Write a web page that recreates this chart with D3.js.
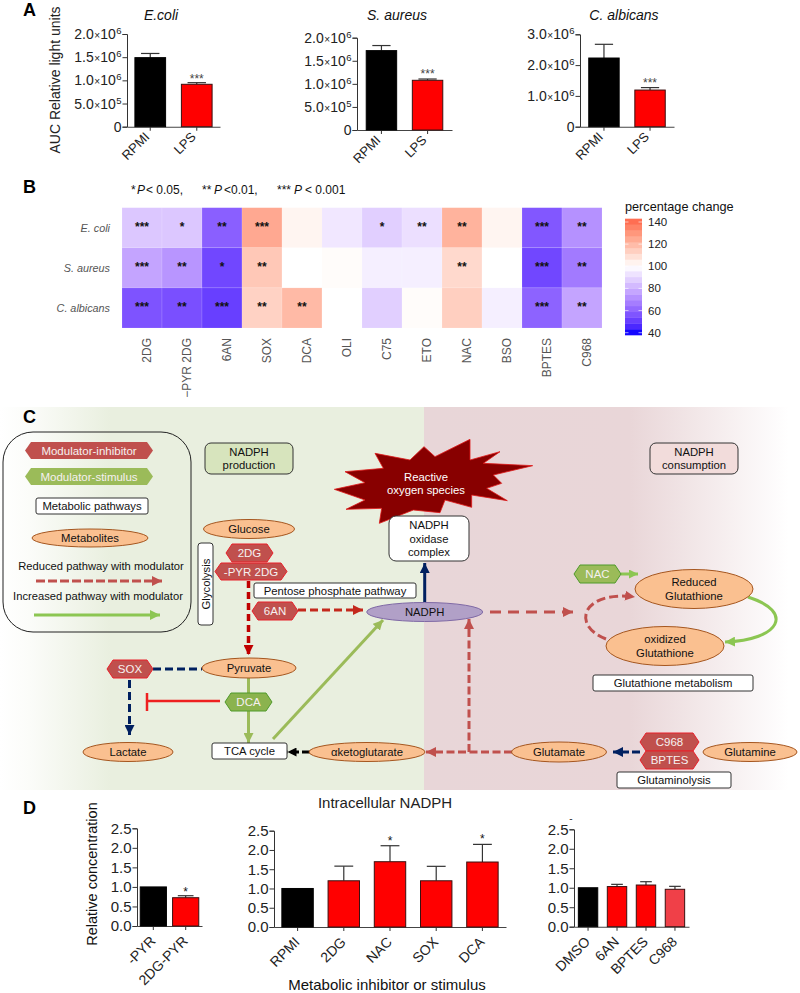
<!DOCTYPE html>
<html><head><meta charset="utf-8">
<style>html,body{margin:0;padding:0;background:#fff}svg{display:block}text{font-family:"Liberation Sans",Arial,sans-serif}</style>
<script src="https://cdn.jsdelivr.net/npm/d3@7"></script></head><body>
<svg id="c" width="800" height="993"></svg>
<script>
// ---------- Panel A data ----------
const aCategories = ["RPMI", "LPS"];
const aEcoliValues = [1.49e6, 0.915e6];
const aEcoliErrors = [1.58e6, 0.95e6];
const aEcoliTicks = [0, 5e5, 1e6, 1.5e6, 2e6];
const aAureusValues = [1.72e6, 1.077e6];
const aAureusErrors = [1.83e6, 1.105e6];
const aAureusTicks = [0, 5e5, 1e6, 1.5e6, 2e6];
const aAlbicansValues = [2.23e6, 1.19e6];
const aAlbicansErrors = [2.675e6, 1.27e6];
const aAlbicansTicks = [0, 1e6, 2e6, 3e6];
// ---------- Panel B data ----------
const hmRows = ["E. coli", "S. aureus", "C. albicans"];
const hmCols = ["2DG", "\u2212PYR 2DG", "6AN", "SOX", "DCA", "OLI", "C75", "ETO", "NAC", "BSO", "BPTES", "C968"];
const hmEcoli = [86, 86, 59, 125, 103, 94, 88, 92, 122, 103, 57, 72];
const hmAureus = [77, 73, 53, 116, 100, 101, 96, 96, 111, 100, 53, 66];
const hmAlbicans = [56, 55, 51, 113, 120, 100, 88, 101, 114, 96, 60, 77];
const hmSigEcoli = ["***", "*", "**", "***", "", "", "*", "**", "**", "", "***", "**"];
const hmSigAureus = ["***", "**", "*", "**", "", "", "", "", "**", "", "***", "**"];
const hmSigAlbicans = ["***", "**", "***", "**", "**", "", "", "", "", "", "***", "**"];
const legendTicks = [40, 60, 80, 100, 120, 140];
// ---------- Panel D data ----------
const dTicks = [0, 0.5, 1, 1.5, 2, 2.5];
const dPyrCats = ["-PYR", "2DG-PYR"];
const dPyrValues = [1.0, 0.724];
const dPyrErrors = [1.0, 0.775];
const dPyrSig = ["", "*"];
const dMidCats = ["RPMI", "2DG", "NAC", "SOX", "DCA"];
const dMidValues = [1.0, 1.2, 1.695, 1.2, 1.687];
const dMidErrors = [1.0, 1.58, 2.11, 1.575, 2.145];
const dMidSig = ["", "", "*", "", "*"];
const dRightCats = ["DMSO", "6AN", "BPTES", "C968"];
const dRightValues = [1.0, 1.03, 1.07, 0.96];
const dRightErrors = [1.0, 1.087, 1.155, 1.036];
const dRightSig = ["", "", "", ""];

const svg = d3.select("#c");
const defs = svg.append("defs");

function txt(g, x, y, s, o = {}) {
  const t = g.append("text").attr("x", x).attr("y", y)
    .attr("font-size", o.size || 12).attr("fill", o.fill || "#111")
    .attr("text-anchor", o.anchor || "middle").text(s);
  if (o.italic) t.attr("font-style", "italic");
  if (o.bold) t.attr("font-weight", "bold");
  if (o.rotate !== undefined) t.attr("transform", `rotate(${o.rotate} ${x} ${y})`);
  return t;
}

function sciFormat(sel) {
  sel.each(function (d) {
    const t = d3.select(this).text(null);
    if (d === 0) { t.append("tspan").text("0"); return; }
    const e = Math.floor(Math.log10(d));
    const m = (d / Math.pow(10, e)).toFixed(1);
    t.append("tspan").text(m);
    t.append("tspan").attr("font-size", 10).attr("dx", 0.5).text("\u00d7");
    t.append("tspan").text("10");
    t.append("tspan").attr("font-size", 9.5).attr("dy", -5).attr("dx", 0.5).text(e);
  });
}

function barPanel(o) {
  const g = svg.append("g");
  const x = d3.scaleBand().domain(o.cats).range([o.x0, o.x1]).paddingInner(o.pi).paddingOuter(o.po);
  const y = d3.scaleLinear().domain(o.domain).range([o.y0, o.yTop]);
  const bw = x.bandwidth();
  const yAxis = d3.axisLeft(y).tickValues(o.ticks).tickSize(4.5).tickPadding(o.tp === undefined ? 1 : o.tp);
  const ya = g.append("g").attr("transform", `translate(${o.x0},0)`).call(yAxis);
  ya.selectAll("path,line").attr("stroke", "#333").attr("stroke-width", 1);
  const yl = ya.selectAll("text").attr("font-size", o.tickSize).attr("fill", "#222")
    .attr("font-family", '"Liberation Sans",Arial,sans-serif');
  if (o.sci) yl.call(sciFormat);
  const xa = g.append("g").attr("transform", `translate(0,${o.y0})`).call(d3.axisBottom(x).tickSize(4).tickSizeOuter(0));
  xa.selectAll("path,line").attr("stroke", "#444").attr("stroke-width", 1.1);
  xa.selectAll("text").attr("font-size", o.xSize || 13).attr("fill", "#222")
    .attr("font-family", '"Liberation Sans",Arial,sans-serif')
    .attr("text-anchor", "end").attr("dx", 0).attr("dy", 0)
    .attr("transform", `translate(${o.xdx},${o.xdy}) rotate(-45)`);
  g.selectAll(".err").data(o.cats).join("g").each(function (c, i) {
    if (o.errors[i] === o.values[i]) return;
    const s = d3.select(this), cx = x(c) + bw / 2, cw = bw * 0.3;
    s.append("line").attr("x1", cx).attr("x2", cx).attr("y1", y(o.values[i])).attr("y2", y(o.errors[i]))
      .attr("stroke", "#333").attr("stroke-width", 1.2);
    s.append("line").attr("x1", cx - cw).attr("x2", cx + cw).attr("y1", y(o.errors[i])).attr("y2", y(o.errors[i]))
      .attr("stroke", "#333").attr("stroke-width", 1.2);
  });
  g.selectAll(".bar").data(o.cats).join("rect")
    .attr("x", c => x(c)).attr("width", bw)
    .attr("y", (c, i) => y(o.values[i])).attr("height", (c, i) => o.y0 - y(o.values[i]))
    .attr("fill", (c, i) => o.fills[i])
    .attr("stroke", (c, i) => i === 0 && o.fills[i] === "#000" ? "#000" : "#3a1010").attr("stroke-width", 1);
  g.selectAll(".sig").data(o.cats).join("text")
    .attr("x", c => x(c) + bw / 2).attr("y", (c, i) => y(o.errors[i]) + (o.sigDy || 0))
    .attr("text-anchor", "middle").attr("font-size", o.sigSize || 12).attr("fill", o.sigFill || "#444")
    .text((c, i) => o.sig[i]);
  return g;
}

const aFmt = { tickSize: 14, sci: true, fills: ["#000", "#ff0000"], sig: ["", "***"], xdx: -5, xdy: 6, pi: 0.34 };
barPanel({ ...aFmt, cats: aCategories, values: aEcoliValues, errors: aEcoliErrors, ticks: aEcoliTicks, domain: [0, 2e6],
  x0: 127, x1: 220, y0: 126.7, yTop: 34, po: 0.17, sigDy: 0 });
barPanel({ ...aFmt, cats: aCategories, values: aAureusValues, errors: aAureusErrors, ticks: aAureusTicks, domain: [0, 2e6],
  x0: 357, x1: 452, y0: 130, yTop: 37.7, po: 0.2, sigDy: -1 });
barPanel({ ...aFmt, cats: aCategories, values: aAlbicansValues, errors: aAlbicansErrors, ticks: aAlbicansTicks, domain: [0, 3e6],
  x0: 580, x1: 674, y0: 126.7, yTop: 34.3, po: 0.19, sigDy: -1 });

txt(svg, 23, 16, "A", { size: 18, bold: true, anchor: "start", fill: "#000" });
txt(svg, 161, 20, "E.coli", { size: 14, italic: true });
txt(svg, 397, 20, "S. aureus", { size: 14, italic: true });
txt(svg, 624, 20, "C. albicans", { size: 14, italic: true });
txt(svg, 60, 80, "AUC Relative light units", { size: 14, rotate: -90, fill: "#222" });

// ---------- Panel B ----------
txt(svg, 23, 193, "B", { size: 18, bold: true, anchor: "start", fill: "#000" });
const pt = svg.append("text").attr("x", 131).attr("y", 194).attr("font-size", 12).attr("fill", "#111");
[["*", 131], ["P", 137, 1], ["< 0.05,", 146], ["**", 202], ["P", 214, 1], ["<0.01,", 224], ["***", 277], ["P", 294, 1], ["< 0.001", 305]]
  .forEach(([s, x, it]) => pt.append("tspan").attr("x", x).attr("font-style", it ? "italic" : "normal").text(s));

const hmX = d3.scaleBand().domain(hmCols).range([122, 602]);
const hmY = d3.scaleBand().domain(hmRows).range([207.7, 328]);
const hmColor = d3.scaleLinear().domain([40, 100, 143]).range(["#0000ff", "#ffffff", "#ff6347"]).interpolate(d3.interpolateLab).clamp(true);
const hmValues = [hmEcoli, hmAureus, hmAlbicans];
const hmSig = [hmSigEcoli, hmSigAureus, hmSigAlbicans];
const hm = svg.append("g");
hmRows.forEach((r, ri) => hmCols.forEach((c, ci) => {
  hm.append("rect").attr("x", hmX(c)).attr("y", hmY(r)).attr("width", hmX.bandwidth()).attr("height", hmY.bandwidth())
    .attr("fill", hmColor(hmValues[ri][ci])).attr("stroke", "#fff").attr("stroke-opacity", 0.25).attr("stroke-width", 0.5);
  if (hmSig[ri][ci]) hm.append("text").attr("x", hmX(c) + hmX.bandwidth() / 2).attr("y", hmY(r) + hmY.bandwidth() / 2 + 3)
    .attr("text-anchor", "middle").attr("font-size", 12).attr("font-weight", "bold").attr("fill", "#111").text(hmSig[ri][ci]);
}));
hmRows.forEach(r => txt(svg, 110, hmY(r) + hmY.bandwidth() / 2 + 4, r, { size: 10.8, italic: true, anchor: "end", fill: "#555" }));
hmCols.forEach(c => {
  const x = hmX(c) + hmX.bandwidth() / 2 + 8.5;
  txt(svg, x, 338, c, { size: 12, anchor: "end", rotate: -90, fill: "#555" });
});
// colour legend
txt(svg, 625, 211, "percentage change", { size: 12.7, anchor: "start", fill: "#111" });
const lgY = d3.scaleLinear().domain([40, 140]).range([332.7, 222]);
const lgBins = d3.range(38, 143, 5.25);
lgBins.forEach(v => svg.append("rect").attr("x", 625).attr("width", 17).attr("y", lgY(v + 5.25)).attr("height", lgY(v) - lgY(v + 5.25) + 0.4).attr("fill", hmColor(v + 2.6)));
legendTicks.forEach(v => {
  svg.append("line").attr("x1", 625).attr("x2", 628.5).attr("y1", lgY(v)).attr("y2", lgY(v)).attr("stroke", "#fff").attr("stroke-width", 0.6);
  svg.append("line").attr("x1", 638.5).attr("x2", 642).attr("y1", lgY(v)).attr("y2", lgY(v)).attr("stroke", "#fff").attr("stroke-width", 0.6);
  txt(svg, 648, lgY(v) + 4, v, { size: 11.5, anchor: "start", fill: "#222" });
});

// ---------- Panel C ----------
const gG = defs.append("linearGradient").attr("id", "gg");
gG.append("stop").attr("offset", "0").attr("stop-color", "#ffffff");
gG.append("stop").attr("offset", "0.07").attr("stop-color", "#fbfcf9");
gG.append("stop").attr("offset", "0.26").attr("stop-color", "#e9efdf");
gG.append("stop").attr("offset", "1").attr("stop-color", "#e9efdf");
const pG = defs.append("linearGradient").attr("id", "pg");
pG.append("stop").attr("offset", "0").attr("stop-color", "#e8d6d8");
pG.append("stop").attr("offset", "0.55").attr("stop-color", "#e9d6d8");
pG.append("stop").attr("offset", "0.97").attr("stop-color", "#ffffff");
svg.append("rect").attr("x", 0).attr("y", 407).attr("width", 424).attr("height", 383).attr("fill", "url(#gg)");
svg.append("rect").attr("x", 424).attr("y", 407).attr("width", 376).attr("height", 383).attr("fill", "url(#pg)");
txt(svg, 23, 423, "C", { size: 18, bold: true, anchor: "start", fill: "#000" });

const cRed = "#c0504d", cGreen = "#9bbb59", cBright = "#8cc652", cNavy = "#002060", cDark = "#c00000";
const heads = {};
function head(color, size) {
  const id = "h" + color.slice(1) + String(size).replace(".", "_");
  if (!heads[id]) {
    heads[id] = 1;
    defs.append("marker").attr("id", id).attr("markerUnits", "userSpaceOnUse")
      .attr("markerWidth", size + 1).attr("markerHeight", size + 1)
      .attr("refX", size).attr("refY", size / 2).attr("orient", "auto")
      .attr("viewBox", `0 0 ${size} ${size}`)
      .append("path").attr("d", `M0,0L${size},${size / 2}L0,${size}Z`).attr("fill", color);
  }
  return `url(#${id})`;
}
function link(d, color, w, dash, hs) {
  const p = svg.append("path").attr("d", d).attr("fill", "none").attr("stroke", color).attr("stroke-width", w);
  if (dash) p.attr("stroke-dasharray", dash);
  if (hs) p.attr("marker-end", head(color, hs));
  return p;
}
function lines(cx, cy, arr, o = {}) {
  const lh = o.lh || 13.5, start = cy - (arr.length - 1) * lh / 2 + 4;
  arr.forEach((s, i) => txt(svg, cx, start + i * lh, s, { size: o.size || 11.3, fill: o.tfill || "#111" }));
}
function box(x0, y0, x1, y1, label, o = {}) {
  svg.append("rect").attr("x", x0).attr("y", y0).attr("width", x1 - x0).attr("height", y1 - y0)
    .attr("rx", o.rx === undefined ? 3 : o.rx).attr("fill", o.fill || "#fff").attr("stroke", "#333").attr("stroke-width", 1);
  if (label) lines((x0 + x1) / 2, (y0 + y1) / 2, [].concat(label), o);
}
function ell(cx, cy, rx, ry, label, o = {}) {
  svg.append("ellipse").attr("cx", cx).attr("cy", cy).attr("rx", rx).attr("ry", ry)
    .attr("fill", o.fill || "#fac090").attr("stroke", o.stroke || "#a5561f").attr("stroke-width", 1);
  lines(cx, cy, [].concat(label), o);
}
function hex(x0, y0, x1, y1, label, o = {}) {
  const n = o.notch || 6, ym = (y0 + y1) / 2;
  svg.append("polygon").attr("points", [[x0, ym], [x0 + n, y0], [x1 - n, y0], [x1, ym], [x1 - n, y1], [x0 + n, y1]].join(" "))
    .attr("fill", o.fill || cRed).attr("stroke", o.stroke || "#e8202a").attr("stroke-width", o.sw === undefined ? 1 : o.sw);
  txt(svg, (x0 + x1) / 2, ym + 4, label, { size: o.size || 11.5, fill: o.tfill || "#f6f0f0" });
}

// links first (under the nodes)
link("M248.5,581V655", cDark, 3.5, "7 4", 9);
link("M298,610H363", "#c4281c", 3, "8 4", 9);
link("M424.7,602V563", cNavy, 3, null, 9);
link("M490,612H573", cRed, 3, "11 7", 9);
link("M512,752H426", cRed, 3, "8 3.5", 9);
link("M469,752V619", cRed, 3, "8 3.5", 9);
link("M606,639C570,625 583,590 635,597", cRed, 3, "9 4", 9);
link("M621,574H638", cBright, 3, null, 8);
link("M748,597C795,612 780,640 725,642", cBright, 3, null, 9);
link("M640,752H613", cNavy, 3, "8 3", 9);
link("M153,669H202", cNavy, 3, "8 4");
link("M129.5,680V735", cNavy, 3, "8 4", 9);
link("M248.5,678V693", cGreen, 3);
link("M248.5,711V743", cGreen, 3, null, 9);
link("M220,701H147", "#ee2020", 2.5);
link("M147,693V711", "#ee2020", 2.5);
link("M310,752H287.5", "#000", 3, "8 3", 8);
link("M273,739L383,620", cGreen, 3, null, 9);

// ROS star
const starPts = [[103,208],[195,188],[135,155],[250,145],[225,100],[330,120],[372,80],[405,110],[510,58],[510,120],[600,95],[550,130],[698,137],[580,165],[605,190],[560,205],[622,242],[515,225],[515,262],[435,240],[420,278],[340,270],[238,310],[245,265],[138,268],[195,240]]
  .map(([a, b]) => [300 + a / 3, 420 + b / 3]);
svg.append("polygon").attr("points", starPts.join(" ")).attr("fill", "#880000").attr("stroke", "#e01818").attr("stroke-width", 0.8);
lines(426, 483.5, ["Reactive", "oxygen species"], { tfill: "#fff", size: 11.3 });

// legend block
svg.append("rect").attr("x", 3).attr("y", 432).attr("width", 188).attr("height", 200).attr("rx", 30).attr("fill", "none").attr("stroke", "#222").attr("stroke-width", 1);
hex(25, 442, 153, 459, "Modulator-inhibitor", { stroke: "none" });
hex(25, 468, 153, 485, "Modulator-stimulus", { fill: cGreen, stroke: "none" });
box(36, 498, 148, 514, "Metabolic pathways", { rx: 2 });
ell(90, 538, 58, 9, "Metabolites");
txt(svg, 101, 570, "Reduced pathway with modulator", { size: 11.2 });
link("M36,581H162", cRed, 3, "9 3", 9);
txt(svg, 98, 600, "Increased pathway with modulator", { size: 11.2 });
link("M34,615H160", cBright, 3, null, 9);

box(205, 443, 293, 474, ["NADPH", "production"], { rx: 6, fill: "#d7e4bd" });
box(650, 443, 738, 474, ["NADPH", "consumption"], { rx: 6, fill: "#f2dcdb" });
box(389, 516, 469, 561, ["NADPH", "oxidase", "complex"], { rx: 7 });
ell(249, 529, 45.5, 9.5, "Glucose");
box(198, 543, 213, 625, null);
txt(svg, 210, 584, "Glycolysis", { size: 11.3, rotate: -90 });
box(254, 583, 416, 598, "Pentose phosphate pathway", { rx: 2 });
hex(226, 544, 273, 562, "2DG");
hex(215, 563, 287, 580, "-PYR 2DG");
hex(252, 602, 298, 620, "6AN");
ell(424.7, 612, 58, 9.5, "NADPH", { fill: "#b1a0c7", stroke: "#7f69a5" });
hex(574, 565, 621, 583, "NAC", { fill: cGreen, stroke: "#4f9a2a" });
ell(694, 589, 59, 19.5, ["Reduced", "Glutathione"]);
ell(665, 646, 59, 19.5, ["oxidized", "Glutathione"]);
box(593, 675, 753, 691, "Glutathione metabolism", { rx: 2 });
ell(249, 668, 47, 10, "Pyruvate");
hex(107, 660, 153, 678, "SOX");
hex(225, 693, 272, 711, "DCA", { fill: "#8bb34e", stroke: "#4f9a2a" });
ell(128, 752, 45, 9.5, "Lactate");
box(212, 743, 287, 759, "TCA cycle", { rx: 2 });
ell(367, 752, 58, 9.5, "\u03b1ketoglutarate");
ell(559, 752, 47.5, 10, "Glutamate");
ell(750, 752, 47, 9.5, "Glutamine");
hex(640, 733, 699, 751, "C968");
hex(640, 751, 699, 769, "BPTES");
box(617, 772, 731, 788, "Glutaminolysis", { rx: 2 });

// ---------- Panel D ----------
txt(svg, 23, 814, "D", { size: 18, bold: true, anchor: "start", fill: "#000" });
txt(svg, 385, 808, "Intracellular NADPH", { size: 15, fill: "#222" });
txt(svg, 387, 990, "Metabolic inhibitor or stimulus", { size: 15, fill: "#111" });
txt(svg, 97, 874, "Relative concentration", { size: 14.5, rotate: -90, fill: "#111" });
const dFmt = { tickSize: 15, sigFill: "#111", sigSize: 12, sigDy: -1, xSize: 14, xdx: -2, xdy: 11 };
barPanel({ ...dFmt, cats: dPyrCats, values: dPyrValues, errors: dPyrErrors, sig: dPyrSig, ticks: dTicks, domain: [0, 2.5],
  x0: 137, x1: 202, y0: 926, yTop: 828.3, pi: 0.19, po: 0.1, fills: ["#000", "#ff0000"], sigDy: 0 });
barPanel({ ...dFmt, cats: dMidCats, values: dMidValues, errors: dMidErrors, sig: dMidSig, ticks: dTicks, domain: [0, 2.5],
  x0: 274, x1: 506, y0: 927, yTop: 830.7, pi: 0.32, po: 0.17, fills: ["#000", "#ff0000", "#ff0000", "#ff0000", "#ff0000"] });
barPanel({ ...dFmt, cats: dRightCats, values: dRightValues, errors: dRightErrors, sig: dRightSig, ticks: dTicks, domain: [0, 2.5],
  x0: 574, x1: 689, y0: 926.7, yTop: 829.3, pi: 0.33, po: 0.15, fills: ["#000", "#ff0000", "#ff0000", "#f04048"] });
txt(svg, 571, 822, "-", { size: 10, fill: "#333" });
</script>
</body></html>
